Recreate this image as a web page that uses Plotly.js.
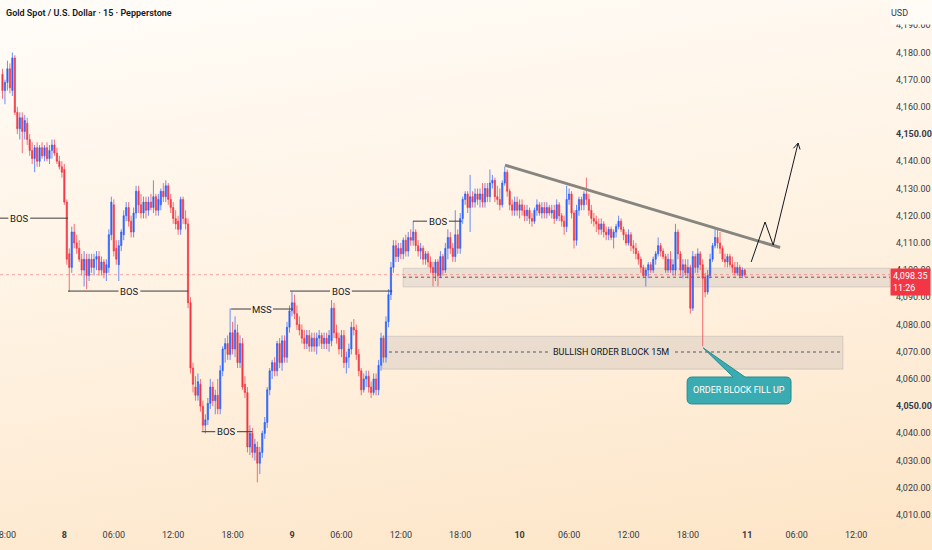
<!DOCTYPE html>
<html>
<head>
<meta charset="utf-8">
<script src="https://cdn.plot.ly/plotly-3.0.1.min.js"></script>
<style>
html,body{margin:0;padding:0;}
body{width:932px;height:550px;overflow:hidden;background:linear-gradient(172deg,#FFFCF8 0%,#FFF4E6 40%,#FEECD6 72%,#FDE5C6 100%);}
#chart{width:932px;height:550px;}
</style>
</head>
<body>
<div id="chart"></div>
<script>
// ---- 15-minute bars, XAUUSD (Pepperstone) ----
const opens = [
4172,4166,4169,4174,4166,4178,4158,4152,4156,4151,
4154,4148,4144,4141,4145,4140,4145,4142,4145,4141,
4144,4146,4143,4140,4138,4137,4125,4106,4101,4114,
4110,4108,4104,4100,4104,4098,4104,4101,4104,4105,
4100,4103,4099,4101,4113,4124,4108,4102,4109,4113,
4120,4123,4118,4114,4121,4129,4124,4121,4125,4122,
4125,4123,4127,4122,4124,4129,4127,4131,4126,4123,
4119,4118,4115,4126,4119,4117,4088,4064,4057,4054,
4058,4050,4043,4045,4051,4057,4052,4054,4049,4063,
4071,4073,4069,4077,4071,4077,4066,4073,4058,4055,
4035,4040,4033,4035,4029,4033,4040,4044,4056,4063,
4066,4063,4073,4066,4074,4068,4079,4085,4088,4084,
4080,4078,4075,4073,4076,4072,4075,4072,4075,4076,
4073,4075,4073,4074,4086,4077,4075,4071,4076,4066,
4068,4071,4079,4078,4069,4063,4056,4060,4061,4057,
4055,4060,4056,4065,4075,4068,4081,4091,4101,4109,
4105,4108,4106,4111,4107,4112,4111,4114,4109,4107,
4108,4104,4106,4103,4101,4099,4103,4098,4105,4100,
4108,4112,4108,4105,4113,4108,4119,4126,4128,4123,
4127,4125,4128,4126,4128,4125,4130,4127,4132,4133,
4127,4126,4124,4132,4136,4129,4124,4122,4125,4122,
4124,4122,4120,4122,4119,4118,4122,4124,4121,4123,
4121,4123,4121,4122,4119,4124,4120,4118,4116,4126,
4128,4121,4111,4122,4126,4124,4128,4126,4122,4119,
4118,4117,4115,4117,4114,4113,4115,4112,4114,4116,
4118,4115,4113,4110,4113,4109,4108,4106,4104,4101,
4098,4100,4102,4100,4104,4106,4109,4107,4105,4100,
4104,4100,4100,4114,4106,4100,4102,4099,4101,4086,
4105,4101,4106,4102,4097,4092,4098,4104,4109,4112,
4110,4108,4104,4103,4105,4102,4101,4099,4101,4098,
4100
];
const highs = [
4174,4170,4177,4176,4180,4179,4160,4158,4158,4157,
4156,4150,4147,4146,4147,4146,4147,4146,4147,4146,
4148,4148,4145,4142,4140,4139,4126,4108,4116,4117,
4113,4111,4106,4107,4106,4106,4106,4106,4107,4107,
4105,4104,4104,4115,4127,4126,4111,4111,4115,4122,
4125,4125,4120,4123,4131,4131,4128,4127,4127,4127,
4128,4133,4128,4128,4130,4132,4133,4132,4128,4125,
4122,4120,4127,4127,4122,4119,4090,4066,4061,4062,
4060,4052,4047,4053,4060,4059,4056,4060,4065,4072,
4075,4076,4086,4081,4083,4080,4076,4075,4061,4057,
4043,4042,4038,4037,4035,4041,4046,4057,4064,4067,
4068,4074,4075,4076,4076,4081,4087,4092,4091,4087,
4083,4080,4078,4078,4078,4077,4077,4077,4078,4077,
4077,4077,4078,4089,4088,4080,4077,4078,4078,4070,
4073,4081,4082,4080,4071,4064,4062,4063,4063,4059,
4062,4062,4067,4077,4076,4083,4093,4103,4111,4111,
4110,4110,4112,4113,4114,4115,4118,4115,4111,4110,
4109,4107,4107,4105,4103,4104,4104,4107,4106,4110,
4115,4114,4110,4122,4115,4121,4127,4129,4129,4135,
4129,4130,4130,4130,4132,4132,4132,4137,4135,4134,
4131,4130,4133,4138,4137,4130,4126,4127,4127,4126,
4126,4124,4124,4123,4121,4123,4126,4125,4125,4125,
4125,4124,4124,4124,4126,4125,4121,4120,4131,4130,
4129,4122,4124,4127,4127,4129,4134,4128,4124,4121,
4120,4119,4119,4118,4116,4116,4116,4115,4117,4120,
4119,4116,4114,4115,4114,4111,4110,4107,4105,4102,
4101,4103,4103,4105,4107,4112,4110,4108,4106,4106,
4107,4104,4117,4115,4107,4104,4104,4104,4102,4107,
4106,4108,4107,4104,4099,4100,4106,4110,4115,4115,
4114,4109,4106,4106,4106,4105,4103,4103,4102,4101,
4100.5
];
const lows = [
4163,4161,4166,4165,4164,4157,4150,4148,4143,4148,
4146,4142,4139,4136,4138,4138,4141,4140,4140,4139,
4141,4142,4139,4137,4134,4124,4102,4092,4099,4108,
4106,4103,4098,4094,4093,4096,4099,4098,4100,4098,
4098,4097,4096,4099,4111,4105,4102,4096,4107,4111,
4118,4116,4112,4112,4119,4121,4119,4119,4119,4120,
4122,4121,4120,4120,4122,4125,4125,4124,4121,4117,
4115,4113,4113,4117,4115,4086,4062,4055,4052,4052,
4048,4041,4040,4043,4049,4050,4047,4047,4047,4061,
4066,4067,4067,4069,4068,4064,4064,4056,4053,4033,
4032,4031,4030,4022,4025,4031,4038,4042,4054,4060,
4061,4061,4064,4063,4066,4066,4077,4083,4082,4078,
4076,4073,4071,4071,4070,4070,4070,4069,4072,4071,
4071,4071,4070,4072,4075,4073,4069,4068,4064,4062,
4064,4069,4076,4067,4061,4054,4055,4057,4055,4053,
4054,4054,4054,4063,4066,4066,4079,4089,4099,4103,
4103,4104,4104,4105,4105,4109,4109,4107,4105,4104,
4102,4102,4101,4099,4094,4096,4094,4097,4098,4099,
4104,4106,4103,4103,4106,4106,4117,4124,4121,4114,
4123,4123,4124,4123,4123,4123,4125,4125,4130,4125,
4124,4122,4123,4131,4127,4122,4120,4120,4120,4119,
4120,4118,4118,4117,4116,4117,4120,4120,4119,4119,
4119,4120,4119,4117,4118,4118,4116,4113,4114,4124,
4119,4108,4109,4120,4122,4122,4124,4120,4117,4116,
4114,4113,4113,4112,4111,4111,4111,4108,4112,4115,
4114,4111,4109,4109,4107,4106,4104,4102,4099,4097,
4094,4097,4099,4099,4102,4105,4105,4104,4099,4099,
4099,4098,4098,4104,4098,4097,4098,4097,4084,4085,
4099,4099,4100,4072,4090,4091,4097,4103,4108,4108,
4106,4103,4101,4101,4101,4099,4098,4098,4097,4097,
4097.5
];
const closes = [
4166,4169,4174,4167,4178,4158,4152,4156,4151,4155,
4148,4144,4141,4145,4140,4145,4142,4145,4141,4144,
4146,4143,4140,4138,4136,4125,4104,4101,4114,4110,
4108,4104,4100,4104,4098,4104,4101,4104,4105,4100,
4103,4099,4102,4113,4125,4107,4104,4109,4114,4120,
4123,4118,4114,4121,4129,4124,4121,4125,4122,4125,
4123,4127,4122,4126,4129,4127,4131,4126,4123,4119,
4117,4115,4126,4119,4117,4088,4064,4058,4054,4059,
4050,4043,4045,4051,4057,4052,4054,4049,4063,4071,
4073,4069,4077,4071,4078,4066,4073,4057,4055,4035,
4040,4033,4036,4029,4033,4040,4044,4056,4063,4066,
4063,4073,4066,4074,4068,4079,4085,4088,4084,4080,
4078,4075,4073,4076,4072,4075,4072,4075,4076,4073,
4075,4073,4076,4086,4077,4075,4071,4076,4066,4068,
4071,4079,4078,4069,4063,4056,4060,4061,4057,4055,
4060,4056,4065,4075,4068,4081,4091,4101,4109,4105,
4108,4106,4111,4107,4112,4111,4114,4109,4107,4108,
4104,4106,4103,4101,4099,4103,4098,4105,4100,4108,
4112,4108,4105,4113,4108,4119,4126,4128,4123,4127,
4125,4128,4126,4128,4125,4130,4127,4132,4133,4127,
4126,4124,4132,4136,4129,4124,4122,4125,4122,4124,
4122,4120,4122,4119,4118,4122,4124,4121,4123,4121,
4123,4121,4122,4119,4124,4120,4118,4116,4126,4128,
4121,4111,4122,4126,4124,4128,4126,4122,4119,4118,
4117,4115,4117,4114,4113,4115,4112,4114,4116,4118,
4115,4113,4110,4113,4109,4108,4106,4104,4101,4098,
4100,4102,4100,4104,4106,4109,4107,4105,4100,4104,
4100,4102,4114,4106,4100,4102,4099,4101,4086,4105,
4101,4106,4102,4097,4092,4098,4104,4109,4112,4110,
4108,4104,4103,4105,4102,4101,4099,4101,4098,4100,
4098.35
];
const lastPrice = 4098.35;
const lastPriceText = '4,098.35';
const countdownText = '11:26';

// time axis (bar numbers of the labelled bars) and its labels
const timeTickBars = [1,25,45,69,93,117,137,161,185,209,229,253,277,301,321,345];
const timeTickLabels = ['18:00','<b>8</b>','06:00','12:00','18:00','<b>9</b>','06:00','12:00','18:00','<b>10</b>','06:00','12:00','18:00','<b>11</b>','06:00','12:00'];

// price axis
const priceTicks = [4010,4020,4030,4040,4050,4060,4070,4080,4090,4100,4110,4120,4130,4140,4150,4160,4170,4180,4190];
const priceTickLabels = priceTicks.map(v => {
  const s = v.toLocaleString('en-US', {minimumFractionDigits:2, maximumFractionDigits:2});
  return (v === 4150 || v === 4050) ? '<b>' + s + '</b>' : s;
});

const barIndex = closes.map((_, i) => i);

// ---- drawings (in bar / price units) ----
const labelFont = "Roboto, 'Liberation Sans', sans-serif";
const ink = '#131722';

const structureMarks = [
  {label:'BOS', level:4119.1, from:-1,    to:26.5,  at:6.8},
  {label:'BOS', level:4092.3, from:26.5,  to:75,    at:51.3},
  {label:'MSS', level:4085.7, from:92.4,  to:117.4, at:104.9},
  {label:'BOS', level:4040.6, from:80.5,  to:101,   at:90.4},
  {label:'BOS', level:4092.3, from:116.2, to:157.5, at:136.8},
  {label:'BOS', level:4118.0, from:165.9, to:185.7, at:176}
];
const gapHalf = 4.4;

const shapes = [];
const annotations = [];

// demand zone with red dashed mid line
shapes.push({type:'rect', xref:'x', yref:'y', x0:161.9, x1:358.7, y0:4093.8, y1:4100.7,
  fillcolor:'rgba(120,123,134,0.15)', line:{color:'rgba(120,123,134,0.22)', width:1}, layer:'below'});
// bullish order block
shapes.push({type:'rect', xref:'x', yref:'y', x0:153.4, x1:339.7, y0:4063.6, y1:4075.7,
  fillcolor:'rgba(120,123,134,0.15)', line:{color:'rgba(120,123,134,0.22)', width:1}, layer:'below'});
// order block mid line (interrupted by its label)
shapes.push({type:'line', xref:'x', yref:'y', x0:156.2, x1:220.5, y0:4069.9, y1:4069.9,
  line:{color:'#55565c', width:1, dash:'3px,3px'}});
shapes.push({type:'line', xref:'x', yref:'y', x0:271.8, x1:338.9, y0:4069.9, y1:4069.9,
  line:{color:'#55565c', width:1, dash:'3px,3px'}});
annotations.push({xref:'x', yref:'y', x:246, y:4069.9, text:'BULLISH ORDER BLOCK 15M', showarrow:false,
  font:{family:labelFont, size:9, color:ink}, xanchor:'center', yanchor:'middle'});

// last price line (faint, full width) and zone mid line
shapes.push({type:'line', xref:'paper', yref:'y', x0:0, x1:1, y0:lastPrice, y1:lastPrice,
  line:{color:'rgba(242,54,69,0.4)', width:1, dash:'dot'}});
shapes.push({type:'line', xref:'x', yref:'y', x0:161.9, x1:358.7, y0:4097.4, y1:4097.4,
  line:{color:'#b83236', width:1, dash:'3px,3px'}});

// structure labels
structureMarks.forEach(m => {
  shapes.push({type:'line', xref:'x', yref:'y', x0:m.from, x1:m.at - gapHalf, y0:m.level, y1:m.level,
    line:{color:'#3a3b40', width:1}});
  shapes.push({type:'line', xref:'x', yref:'y', x0:m.at + gapHalf, x1:m.to, y0:m.level, y1:m.level,
    line:{color:'#3a3b40', width:1}});
  annotations.push({xref:'x', yref:'y', x:m.at, y:m.level, text:m.label, showarrow:false,
    font:{family:labelFont, size:9.5, color:ink}, xanchor:'center', yanchor:'middle'});
});

// descending trend line
shapes.push({type:'line', xref:'x', yref:'y', x0:203.1, y0:4138.6, x1:314.3, y1:4108.3,
  line:{color:'rgba(128,128,122,0.95)', width:3}, layer:'above'});

// projected path with open arrow head
shapes.push({type:'path', xref:'x', yref:'y',
  path:'M302.6,4103.0 L308.2,4117.7 L311.5,4109.2 L321.55,4146.7',
  line:{color:ink, width:1}});
shapes.push({type:'path', xref:'x', yref:'y',
  path:'M319.66,4144.78 L321.55,4146.7 L322.36,4144.34',
  line:{color:ink, width:1}});

// callout "ORDER BLOCK FILL UP"
(function(){
  const x0 = 276.7, x1 = 318.7, yb = 4050.8, yt = 4060.7, rx = 2.0, ry = 1.8;
  const bl = 295.3, br = 300.1, tipX = 283.2, tipY = 4071.4;
  const p = 'M' + (x0+rx) + ',' + yt + ' L' + bl + ',' + yt + ' L' + tipX + ',' + tipY + ' L' + br + ',' + yt +
    ' L' + (x1-rx) + ',' + yt + ' Q' + x1 + ',' + yt + ' ' + x1 + ',' + (yt-ry) +
    ' L' + x1 + ',' + (yb+ry) + ' Q' + x1 + ',' + yb + ' ' + (x1-rx) + ',' + yb +
    ' L' + (x0+rx) + ',' + yb + ' Q' + x0 + ',' + yb + ' ' + x0 + ',' + (yb+ry) +
    ' L' + x0 + ',' + (yt-ry) + ' Q' + x0 + ',' + yt + ' ' + (x0+rx) + ',' + yt + ' Z';
  shapes.push({type:'path', xref:'x', yref:'y', path:p, fillcolor:'rgb(58,172,177)',
    line:{color:'rgb(36,140,146)', width:1}, layer:'above'});
  annotations.push({xref:'x', yref:'y', x:(x0+x1)/2, y:(yb+yt)/2, text:'ORDER BLOCK FILL UP', showarrow:false,
    font:{family:labelFont, size:9, color:'#ffffff'}, xanchor:'center', yanchor:'middle'});
})();

// header texts
annotations.push({xref:'paper', yref:'paper', x:0, xshift:4, y:1 - 13/528, text:'Gold Spot / U.S. Dollar · 15 · Pepperstone',
  showarrow:false, xanchor:'left', yanchor:'middle', font:{family:labelFont, size:9, color:ink, weight:600}});
annotations.push({xref:'paper', yref:'paper', x:1, y:1, xanchor:'left', yanchor:'top', text:'USD', showarrow:false,
  width:42, height:23, align:'left', valign:'middle', bgcolor:'#FFFBF6', borderpad:0, xshift:0,
  font:{family:labelFont, size:9, color:'#363a45'}});
// last price label on the scale
annotations.push({xref:'paper', yref:'y', x:1, y:4100.6, xanchor:'left', yanchor:'top',
  text:lastPriceText + '<br>' + countdownText, showarrow:false, align:'left', bgcolor:'#F23645', borderpad:2,
  font:{family:labelFont, size:9, color:'#ffffff'}});

const trace = {
  type:'candlestick', x:barIndex, open:opens, high:highs, low:lows, close:closes,
  increasing:{line:{color:'rgba(41,98,255,0.7)', width:1}, fillcolor:'#2962FF'},
  decreasing:{line:{color:'rgba(242,54,69,0.7)', width:1}, fillcolor:'#F23645'},
  whiskerwidth:0, hoverinfo:'skip'
};

const layout = {
  width:932, height:550,
  margin:{l:0, r:42, t:0, b:22, pad:0},
  paper_bgcolor:'rgba(0,0,0,0)', plot_bgcolor:'rgba(0,0,0,0)',
  showlegend:false,
  xaxis:{range:[-1, 358.7], tickmode:'array', tickvals:timeTickBars, ticktext:timeTickLabels,
    showgrid:false, zeroline:false, showline:false, ticks:'', rangeslider:{visible:false},
    ticklabeloverflow:'allow',
    tickfont:{family:labelFont, size:9, color:'#363a45'}, fixedrange:true},
  yaxis:{side:'right', range:[4005.2, 4199.3], tickmode:'array', tickvals:priceTicks, ticktext:priceTickLabels,
    showgrid:false, zeroline:false, showline:false, ticks:'', ticklabelstandoff:5,
    tickfont:{family:labelFont, size:9, color:'#363a45'}, fixedrange:true},
  shapes:shapes, annotations:annotations
};

Plotly.newPlot('chart', [trace], layout, {staticPlot:true, displayModeBar:false});
</script>
</body>
</html>
